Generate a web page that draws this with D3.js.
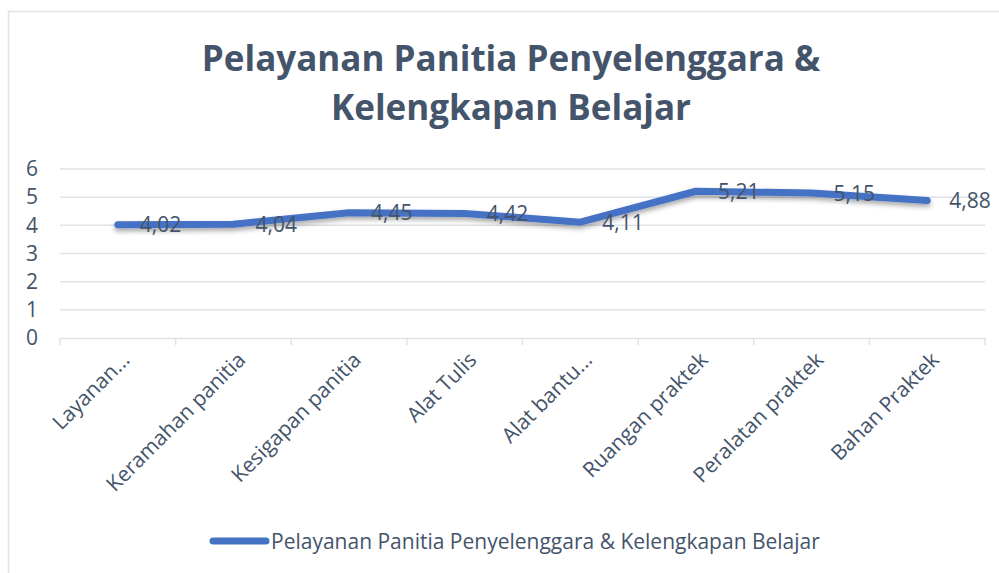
<!DOCTYPE html>
<html>
<head>
<meta charset="utf-8">
<script src="https://cdn.jsdelivr.net/npm/d3@7"></script>
<style>
  body { margin: 0; background: #fff; }
  svg { display: block; font-family: "Open Sans", sans-serif; }
</style>
</head>
<body>
<svg id="chart" width="999" height="573"></svg>
<script>
// data
const categories = ['Layanan...', 'Keramahan panitia', 'Kesigapan panitia', 'Alat Tulis',
  'Alat bantu...', 'Ruangan praktek', 'Peralatan praktek', 'Bahan Praktek'];
const values = [4.02, 4.04, 4.45, 4.42, 4.11, 5.21, 5.15, 4.88];
const yTicks = [0, 1, 2, 3, 4, 5, 6];
const seriesName = 'Pelayanan Panitia Penyelenggara & Kelengkapan Belajar';
const titleLines = ['Pelayanan Panitia Penyelenggara &', 'Kelengkapan Belajar'];

const textColor = '#44546a';
const lineColor = '#4472c4';
const gridColor = '#dfe2e7';

const svg = d3.select('#chart');

// chart frame
svg.append('rect')
  .attr('x', 8.5).attr('y', 11.5)
  .attr('width', 1100).attr('height', 700)
  .attr('fill', 'none').attr('stroke', '#dfe2e7').attr('stroke-width', 1.5);

const defs = svg.append('defs');
defs.append('filter').attr('id', 'shadow')
  .attr('x', '-5%').attr('y', '-50%').attr('width', '110%').attr('height', '200%')
  .append('feDropShadow')
  .attr('dx', 0).attr('dy', 3).attr('stdDeviation', 2.5)
  .attr('flood-color', '#000').attr('flood-opacity', 0.35);

const x = d3.scaleBand()
  .domain(categories)
  .range([60, 985]);

const y = d3.scaleLinear()
  .domain([0, 6])
  .range([338, 169]);

// title
svg.append('g').selectAll('text').data(titleLines).join('text')
  .attr('x', 511)
  .attr('y', (d, i) => 71 + i * 49)
  .attr('text-anchor', 'middle')
  .attr('font-size', 35).attr('font-weight', 700)
  .attr('fill', textColor)
  .text(d => d);

// grid
svg.append('g').selectAll('line').data(yTicks.filter(d => d > 0)).join('line')
  .attr('x1', x.range()[0]).attr('x2', x.range()[1])
  .attr('y1', d => y(d)).attr('y2', d => y(d))
  .attr('stroke', gridColor).attr('stroke-width', 1.5);

// y axis labels
const yAxis = svg.append('g')
  .attr('transform', 'translate(38,0)')
  .call(d3.axisLeft(y).tickValues(yTicks).tickSize(0).tickPadding(0).tickFormat(d3.format('d')));
yAxis.select('.domain').remove();
yAxis.selectAll('text')
  .attr('font-size', 21).attr('fill', textColor).attr('font-family', '"Open Sans", sans-serif');

// x axis
const xAxis = svg.append('g')
  .attr('transform', `translate(0,${y(0)})`)
  .call(d3.axisBottom(x).tickSize(0).tickFormat(''));
xAxis.select('.domain').attr('stroke', gridColor).attr('stroke-width', 1.5);
const bounds = categories.map(c => x(c)).concat([x.range()[1]]);
xAxis.append('g').selectAll('line').data(bounds).join('line')
  .attr('x1', d => d).attr('x2', d => d)
  .attr('y1', 0).attr('y2', 7)
  .attr('stroke', gridColor).attr('stroke-width', 1.5);

svg.append('g').selectAll('text').data(categories).join('text')
  .attr('transform', d => `translate(${x(d) + x.bandwidth() / 2 + 8},356) rotate(-45)`)
  .attr('text-anchor', 'end')
  .attr('dy', '0.35em')
  .attr('font-size', 21).attr('fill', textColor)
  .text(d => d);

// line
const pts = categories.map((c, i) => [x(c) + x.bandwidth() / 2, y(values[i])]);
svg.append('path')
  .datum(pts)
  .attr('d', d3.line())
  .attr('fill', 'none')
  .attr('stroke', lineColor)
  .attr('stroke-width', 7)
  .attr('stroke-linecap', 'round')
  .attr('stroke-linejoin', 'round')
  .attr('filter', 'url(#shadow)');

// data labels
const fmt = v => d3.format('.2f')(v).replace('.', ',');
svg.append('g').selectAll('text').data(values).join('text')
  .attr('x', (d, i) => pts[i][0] + 22)
  .attr('y', (d, i) => pts[i][1])
  .attr('dy', '0.36em')
  .attr('font-size', 21).attr('fill', textColor)
  .text(d => fmt(d));

// legend
const legend = svg.append('g');
legend.append('line')
  .attr('x1', 213).attr('x2', 266).attr('y1', 541).attr('y2', 541)
  .attr('stroke', lineColor).attr('stroke-width', 7).attr('stroke-linecap', 'round');
legend.append('text')
  .attr('x', 271).attr('y', 541).attr('dy', '0.36em')
  .attr('font-size', 21).attr('fill', textColor)
  .text(seriesName);
</script>
</body>
</html>
